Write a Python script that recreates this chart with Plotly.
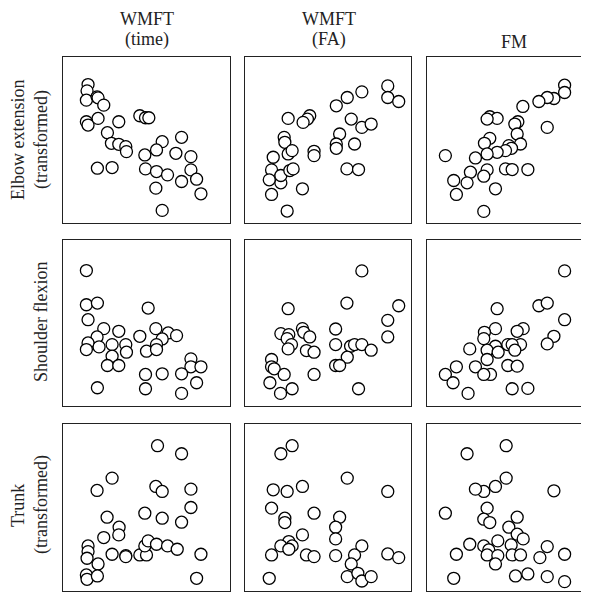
import plotly.graph_objects as go

# Column variables (x) and row variables (y); values read as % of each panel
col_titles = [["WMFT", "(time)"], ["WMFT", "(FA)"], ["FM"]]
row_titles = [["Elbow extension", "(transformed)"], ["Shoulder flexion"], ["Trunk", "(transformed)"]]

# Row 1: Elbow extension
elbow_time_x = [15, 14.4, 14, 20.4, 21, 24.4, 14, 15, 21, 33.4, 46, 49.4, 51.4, 26.6, 29, 33.4, 37.6, 38,
                59.4, 71, 49, 56, 67.6, 76.6, 20.6, 29.4, 49.4, 56, 62.6, 76.6, 71, 80, 55.6, 82.6, 59.4]
elbow_time_y = [83.4, 79.6, 74, 76, 75.4, 71, 61, 59, 63, 61, 64.6, 63.4, 63.4, 54.4, 48, 47.4, 46, 43,
                49, 51.6, 41, 44, 42, 40, 33, 33.4, 32.6, 31, 29, 32, 25, 26.4, 21, 17.6, 7.6]
elbow_fa_x = [86, 86, 92.6, 70.4, 61.6, 55, 64, 70.4, 76, 57, 55, 55, 66, 61.4, 68.4, 26, 39, 37.6, 35,
              23.6, 24, 26, 28.4, 41.6, 41.6, 17, 16, 21.6, 14.6, 21.6, 27, 29, 34.6, 16, 25.4]
elbow_fa_y = [82.6, 75.6, 73.2, 79, 75.6, 70.6, 62.6, 57.6, 59.6, 53.6, 47.6, 45, 47.6, 32.6, 32.2, 63,
              64.6, 62.6, 60.6, 51.6, 48.6, 41.6, 43.6, 43.2, 40.6, 39.6, 32, 24.2, 26, 28.6, 31.6, 32.6,
              20.6, 17.2, 7.2]
elbow_fm_x = [82.4, 82.4, 76, 72, 67, 57.4, 37.6, 42, 36, 54.4, 52.6, 72, 54, 37.6, 34.4, 56, 49, 50.6,
              47, 42, 36, 29, 11, 36, 34, 47, 51, 60.4, 26, 24, 16, 17.6, 41, 34]
elbow_fm_y = [83, 78.6, 75, 75.6, 73.2, 70.2, 64, 63, 62.6, 61, 59.6, 57.6, 53.6, 51, 48, 47.6, 46.6, 45,
              43.6, 42.6, 41.6, 39.2, 40.6, 32, 28.2, 32.6, 32.2, 32.2, 30.6, 24.2, 25.6, 17.2, 20.6, 7]

# Row 2: Shoulder flexion
shoulder_time_x = [14, 14, 20.6, 15, 51, 24.4, 33.4, 20.4, 15, 14, 21.6, 29.4, 37.6, 38, 29.4, 26.6, 33.4,
                   46, 55.6, 63, 68, 59.4, 56, 50, 56, 76.6, 76.6, 82.6, 71, 80, 71, 49.4, 59.4, 49.4, 20.6]
shoulder_time_y = [81.6, 61, 62, 52, 59, 46.6, 45, 41.6, 38, 34, 35.6, 37, 37, 32.4, 30, 24.4, 24.4, 42,
                   46.6, 44, 42.4, 40.4, 37, 33, 34, 28.4, 23.6, 23.6, 19.4, 14, 7.6, 19, 19.4, 10.4, 11]
shoulder_fa_x = [70.4, 61.4, 92.6, 26, 86, 86, 54.6, 54.6, 21.6, 26.4, 34.6, 35.4, 39, 25.4, 28, 26, 37,
                 41.6, 63.6, 66, 70.4, 76, 61.6, 54.6, 57, 16, 16, 17.6, 23.6, 41.6, 15, 21.4, 28.4, 68.4]
shoulder_fa_y = [81.4, 62, 60.4, 58.6, 51.6, 41.6, 46.4, 37, 43.6, 43, 46.6, 44.4, 41.6, 40.6, 37, 34.4,
                 33.4, 32.4, 36, 37, 37, 33.6, 29.4, 24.4, 24.4, 28, 23.6, 22.4, 19, 19, 14, 7.6, 10.4, 10.4]
shoulder_fm_x = [82.4, 67, 72, 82.4, 42, 76, 72, 41, 34.4, 34, 57.6, 54, 56, 48.4, 51, 52.6, 41, 36, 42.6,
                 36, 25.6, 48.4, 54, 17.6, 29, 38, 34, 11, 15.6, 24.6, 51, 60.4]
shoulder_fm_y = [81.4, 60.4, 62, 52, 58.6, 42, 37.4, 46.6, 44.4, 40.6, 46.6, 45, 37, 37, 37, 33.6, 36,
                 33.6, 32.4, 28, 34.4, 24.4, 24, 23.6, 23.6, 19, 19, 19, 14, 7.6, 10.4, 10.6]

# Row 3: Trunk
trunk_time_x = [56.6, 71, 29.4, 20.4, 55.6, 59.4, 76.6, 76.6, 49, 59.4, 71, 26.4, 33.6, 33.4, 24.4, 15, 15,
                14.4, 21, 29.4, 37.6, 37.6, 46, 50, 49, 51, 56, 62.6, 68.4, 82.6, 14, 14.4, 20.6, 80]
trunk_time_y = [87, 82.2, 67.6, 60.2, 62.6, 59.6, 61, 50, 46.6, 43.6, 41.2, 44.2, 38.2, 33.6, 32, 27,
                23.6, 19.6, 16.2, 22, 21.2, 20.6, 21.6, 21.6, 27, 30, 28, 27, 25, 22, 9.6, 7, 9, 7.6]
trunk_fa_x = [28.4, 21.6, 61.6, 86, 17, 25.4, 34.6, 16, 41.6, 24, 24, 57, 54.6, 54.6, 34.6, 26.4, 28.4,
              21.6, 26.4, 16, 37, 41.6, 54.6, 70.4, 66, 64, 86, 92.6, 61.6, 68, 70.4, 76, 14.6]
trunk_fa_y = [87, 82.2, 67.6, 59.6, 60.6, 59.6, 62.6, 49.6, 46.6, 43.6, 41, 44.2, 38.2, 31.2, 33.6, 29.6,
              27, 27, 25, 21.6, 21.6, 20.6, 21.2, 27, 21.6, 16.2, 22.2, 20, 8.6, 10.6, 6, 8.6, 7.6]
trunk_fm_x = [47.4, 24, 47.4, 41, 34, 29, 76, 11, 36, 34, 37.6, 54, 49, 54, 57.6, 42.4, 25.6, 34, 37, 36,
              42.4, 41, 50.4, 51, 56, 72, 67.6, 82.4, 17.6, 16, 53, 60.4, 72, 82.4]
trunk_fm_y = [87, 82.2, 67.6, 62.6, 59.6, 61, 60, 46.6, 49.6, 43, 41, 44.2, 38.2, 34, 31.2, 30, 28, 27,
              24.6, 21.6, 21.2, 16.2, 27.6, 21.6, 21.6, 26.6, 20, 22, 22, 7.6, 9, 10.2, 8.6, 5.6]

panels = [
    [(elbow_time_x, elbow_time_y), (elbow_fa_x, elbow_fa_y), (elbow_fm_x, elbow_fm_y)],
    [(shoulder_time_x, shoulder_time_y), (shoulder_fa_x, shoulder_fa_y), (shoulder_fm_x, shoulder_fm_y)],
    [(trunk_time_x, trunk_time_y), (trunk_fa_x, trunk_fa_y), (trunk_fm_x, trunk_fm_y)],
]

OFF = 8  # page body margin
W, H = 589 - OFF, 592 - OFF
col_px = [(63, 230), (245, 411), (427, 589)]
row_px = [(57, 223), (240, 406), (424, 591)]
x_ranges = [[0, 100], [0, 100], [0, 100 * 162 / 167]]

def px_x(v):
    return (v - OFF) / W

def px_y(v):
    return 1 - (v - OFF) / H

fig = go.Figure()
layout = dict(width=W, height=H, margin=dict(l=0, r=0, t=0, b=0),
              paper_bgcolor="white", plot_bgcolor="white", showlegend=False)

for r in range(3):
    for c in range(3):
        k = r * 3 + c + 1
        xn = "x" if k == 1 else f"x{k}"
        yn = "y" if k == 1 else f"y{k}"
        xs, ys = panels[r][c]
        fig.add_trace(go.Scatter(
            x=xs, y=ys, xaxis=xn, yaxis=yn, mode="markers",
            marker=dict(size=12, color="white", line=dict(color="black", width=1.3)),
            hoverinfo="skip"))
        xd = [max(0, px_x(col_px[c][0])), min(1, px_x(col_px[c][1]))]
        yd = [max(0, px_y(row_px[r][1])), min(1, px_y(row_px[r][0]))]
        common = dict(showgrid=False, zeroline=False, showticklabels=False, ticks="",
                      showline=True, linecolor="#222", linewidth=1)
        layout["xaxis" if k == 1 else f"xaxis{k}"] = dict(
            domain=xd, range=x_ranges[c], anchor=yn, mirror=True, **common)
        layout["yaxis" if k == 1 else f"yaxis{k}"] = dict(
            domain=yd, range=[0, 100], anchor=xn, mirror=(c != 2), **common)

fig.update_layout(**layout)

font = dict(family="Liberation Serif", size=18, color="#222")
anns = []
# column titles
col_centers = [147, 329, 514]
col_line_y = {2: [18.5, 39], 1: [42]}
for c, lines in enumerate(col_titles):
    ys = col_line_y[len(lines)]
    for txt, yy in zip(lines, ys):
        anns.append(dict(text=txt, x=px_x(col_centers[c]), y=px_y(yy), xref="paper", yref="paper",
                         xanchor="center", yanchor="middle", showarrow=False, font=font,
                         borderpad=0))
# row titles
row_centers = [140, 322, 505]
row_line_x = {2: [18, 41], 1: [41]}
for r, lines in enumerate(row_titles):
    xs_ = row_line_x[len(lines)]
    for txt, xx in zip(lines, xs_):
        anns.append(dict(text=txt, x=px_x(xx), y=px_y(row_centers[r]), xref="paper", yref="paper",
                         xanchor="center", yanchor="middle", showarrow=False, textangle=-90, font=font,
                         borderpad=0))
fig.update_layout(annotations=anns)

fig.write_html("out.html")
